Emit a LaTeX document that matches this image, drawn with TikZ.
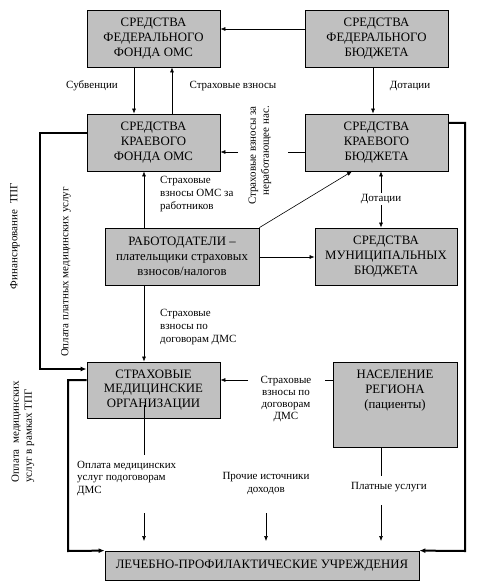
\documentclass[tikz,border=0pt]{standalone}
\usepackage{fontspec}
\setmainfont{Liberation Serif}
\usetikzlibrary{arrows.meta}
\definecolor{boxgray}{HTML}{C0C0C0}
\begin{document}
\begin{tikzpicture}[x=1pt,y=-1pt,
  box/.style={draw=black, line width=0.8pt, fill=boxgray, inner sep=0pt, align=center, font=\fontsize{12.8}{14.8}\selectfont},
  lbl/.style={inner sep=0pt, font=\fontsize{11}{13}\selectfont},
  arr/.style={-{Latex[length=5pt,width=4pt]}, line width=0.6pt},
  ln/.style={line width=0.6pt},
  tarr/.style={-{Latex[length=6pt,width=5pt]}, line width=2pt},
]
\useasboundingbox (0,0) rectangle (479,588);

% boxes
\node[box, minimum width=133pt, minimum height=57pt] (ff) at (153.5,38.5) {СРЕДСТВА\\ФЕДЕРАЛЬНОГО\\ФОНДА ОМС};
\node[box, minimum width=143pt, minimum height=57pt] (fb) at (376.5,38.5) {СРЕДСТВА\\ФЕДЕРАЛЬНОГО\\БЮДЖЕТА};
\node[box, minimum width=133pt, minimum height=57pt] (kf) at (153.5,142.5) {СРЕДСТВА\\КРАЕВОГО\\ФОНДА ОМС};
\node[box, minimum width=143pt, minimum height=57pt] (kb) at (376.5,142.5) {СРЕДСТВА\\КРАЕВОГО\\БЮДЖЕТА};
\node[box, minimum width=154pt, minimum height=57pt] (emp) at (182,256.5) {РАБОТОДАТЕЛИ –\\плательщики страховых\\взносов/налогов};
\node[box, minimum width=142pt, minimum height=57pt] (mun) at (386,256.5) {СРЕДСТВА\\МУНИЦИПАЛЬНЫХ\\БЮДЖЕТА};
\node[box, minimum width=133pt, minimum height=56pt] (smo) at (153.5,390) {СТРАХОВЫЕ\\МЕДИЦИНСКИЕ\\ОРГАНИЗАЦИИ};
\node[box, minimum width=124pt, minimum height=85pt,
  label={[anchor=north, yshift=-5pt, align=center, font=\fontsize{12.8}{15}\selectfont]north:НАСЕЛЕНИЕ\\РЕГИОНА\\(пациенты)}] (pop) at (395,404.5) {};
\node[box, minimum width=314pt, minimum height=29pt] (lpu) at (262,565.5) {ЛЕЧЕБНО-ПРОФИЛАКТИЧЕСКИЕ УЧРЕЖДЕНИЯ};

% free coordinates
\coordinate (kbgapR) at (288,152);
\coordinate (kbgapL) at (238,152);
\coordinate (smoin) at (144,405);
\coordinate (smogapT) at (144,455);
\coordinate (smogapB) at (144,513);
\coordinate (smoend) at (144,541);
\coordinate (othT) at (266,513);
\coordinate (othB) at (266,541);
\coordinate (popgapT) at (381,476);
\coordinate (popgapB) at (381,505);
\coordinate (popend) at (381,541);
\coordinate (popgapR) at (325,380);
\coordinate (popgapL) at (248,380);

% thin connectors
\draw[arr] (fb.west |- 0,29) -- (ff.east |- 0,29);
\draw[arr] (ff.south -| 134,0) -- (kf.north -| 134,0);
\draw[arr] (kf.north -| 172,0) -- (ff.south -| 172,0);
\draw[arr] (fb.south -| 373,0) -- (kb.north -| 373,0);
\draw[ln] (kb.west |- 0,152) -- (kbgapR);
\draw[arr] (kbgapL) -- (kf.east |- 0,152);
\draw[arr] (emp.north -| 144,0) -- (kf.south -| 144,0);
\draw[arr] (emp.north east) -- (kb.south -| 352,0);
\draw[{Latex[length=5pt,width=4pt]}-{Latex[length=5pt,width=4pt]}, line width=0.6pt] (kb.south -| 381,0) -- (mun.north -| 381,0);
\draw[arr] (emp.east |- 0,257) -- (mun.west |- 0,257);
\draw[arr] (emp.south -| 144,0) -- (smo.north -| 144,0);
\draw[ln] (smoin) -- (smogapT);
\draw[arr] (smogapB) -- (smoend);
\draw[arr] (othT) -- (othB);
\draw[ln] (pop.south -| 381,0) -- (popgapT);
\draw[arr] (popgapB) -- (popend);
\draw[ln] (pop.west |- 0,380) -- (popgapR);
\draw[arr] (popgapL) -- (smo.east |- 0,380);

% thick connectors
\draw[tarr] (kf.west |- 0,133) -- (40,133) -- (40,369) -- (smo.west |- 0,369);
\draw[tarr] (kb.east |- 0,123) -- (465,123) -- (465,551) -- (lpu.north east);
\draw[tarr] (smo.west |- 0,380) -- (68,380) -- (68,551) -- (lpu.north west);

% labels
\node[lbl] (l1) at (92,86) {Субвенции};
\node[lbl] (l2) at (233,86) {Страховые взносы};
\node[lbl] (l3) at (410,86) {Дотации};
\node[lbl, rotate=90, align=right] (l4) at (260,155.5) {Страховые взносы за\\неработающее нас.};
\node[lbl, anchor=north west, align=left] (l5) at (160,176) {Страховые\\взносы ОМС за\\работников};
\node[lbl, fill=white, inner sep=1pt] (l6) at (381,199) {Дотации};
\node[lbl, anchor=north west, align=left] (l7) at (160,309) {Страховые\\взносы по\\договорам ДМС};
\node[lbl, rotate=90] (l8) at (15,236) {Финансирование\ \ ТПГ};
\node[lbl, rotate=90] (l9) at (66,272) {Оплата платных медицинских услуг};
\node[lbl, rotate=90, align=left] (l10) at (23,432) {Оплата\ \ медицинских\\услуг в рамках ТПГ};
\node[lbl, align=center, font=\fontsize{11}{12.2}\selectfont] (l11) at (286,399) {Страховые\\взносы по\\договорам\\ДМС};
\node[lbl, anchor=north west, align=left, font=\fontsize{11}{12.5}\selectfont] (l12) at (77,461) {Оплата медицинских\\услуг подоговорам\\ДМС};
\node[lbl, align=center] (l13) at (266,483) {Прочие источники\\доходов};
\node[lbl] (l14) at (389,487) {Платные услуги};
\end{tikzpicture}
\end{document}
